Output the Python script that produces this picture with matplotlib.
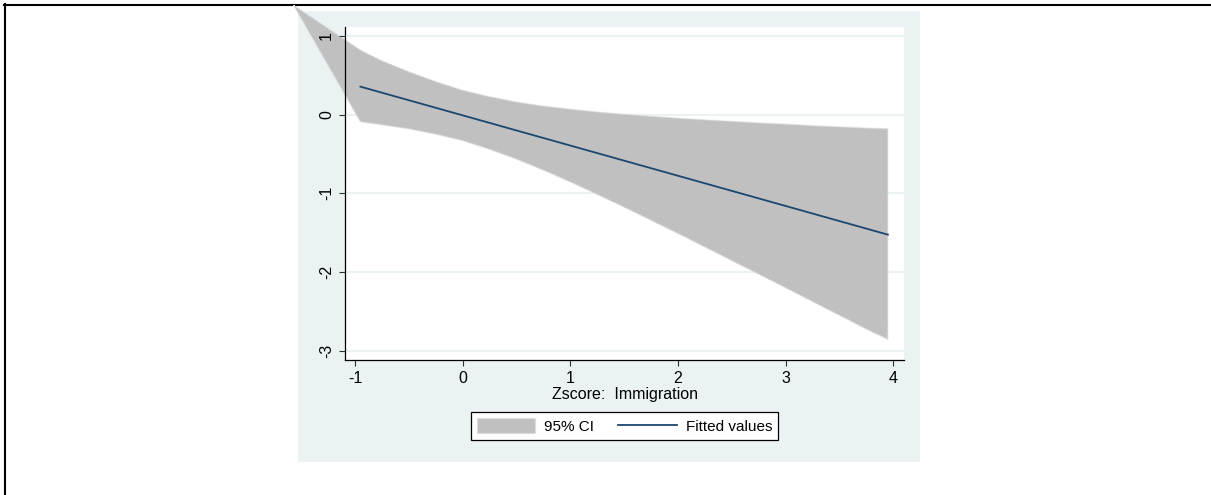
import matplotlib.pyplot as plt
from matplotlib.patches import Rectangle, Patch
from matplotlib.lines import Line2D

plt.rcParams['font.family'] = ['Liberation Sans', 'DejaVu Sans']
plt.rcParams['axes.unicode_minus'] = False

# 95% interval around the linear fit, read at these predictor values
band_x = [-0.95, -0.75, -0.5, -0.25, 0.0, 0.25, 0.5, 0.75, 1.0, 1.25, 1.5,
          1.75, 2.0, 2.25, 2.5, 2.75, 3.0, 3.25, 3.5, 3.75, 3.95]
band_upper = [0.82, 0.685, 0.545, 0.42, 0.31, 0.228, 0.16, 0.109, 0.07, 0.034, 0.005,
              -0.021, -0.045, -0.066, -0.085, -0.105, -0.12, -0.14, -0.155, -0.17, -0.18]
band_lower = [-0.09, -0.129, -0.18, -0.248, -0.33, -0.44, -0.565, -0.705, -0.855, -1.014, -1.175,
              -1.343, -1.51, -1.682, -1.855, -2.027, -2.2, -2.376, -2.55, -2.726, -2.855]
# extra vertex the shaded polygon starts from (sits outside the plot region)
stray_x = -1.57
stray_y = 1.39

# fitted values
fit_x = [-0.95, 3.95]
fit_y = [0.356, -1.525]

x_ticks = [-1, 0, 1, 2, 3, 4]
y_ticks = [1, 0, -1, -2, -3]

W, H = 1211, 495
fig = plt.figure(figsize=(W / 100, H / 100), dpi=100)

def fx(px):
    return px / W

def fy(py):
    return 1 - py / H

# page frame and graph region
fig.add_artist(Line2D([fx(4), fx(1211)], [fy(5), fy(5)], color='black', lw=1.5, zorder=-2))
fig.add_artist(Line2D([fx(5), fx(5)], [fy(4), fy(495)], color='black', lw=1.5, zorder=-2))
fig.add_artist(Rectangle((fx(298), fy(462)), fx(920) - fx(298), fy(11) - fy(462),
                         transform=fig.transFigure, facecolor='#eaf2f3', edgecolor='none', zorder=-1))

ax = fig.add_axes([fx(345), fy(360), fx(904) - fx(345), fy(27) - fy(360)])
ax.set_facecolor('white')
ax.set_xlim(-1.093, 4.1)
ax.set_ylim(-3.118, 1.114)

for yv in y_ticks:
    ax.axhline(yv, color='#eaf2f3', lw=1.5, zorder=0.5)

poly_x = [stray_x] + band_x + band_x[::-1]
poly_y = [stray_y] + band_upper + band_lower[::-1]
ax.fill(poly_x, poly_y, facecolor='#c0c0c0', edgecolor='#dcdcdc',
        linestyle=(0, (1, 1)), lw=1, clip_on=False, zorder=1)

ax.plot(fit_x, fit_y, color='#1a476f', lw=1.3, zorder=2)

for side in ['top', 'right']:
    ax.spines[side].set_visible(False)
for side in ['left', 'bottom']:
    ax.spines[side].set_linewidth(0.9)

ax.set_xticks(x_ticks)
ax.set_yticks(y_ticks)
ax.tick_params(direction='out', length=4, width=0.8, labelsize=11.5, pad=4, color='#333333')
for lab in ax.get_yticklabels():
    lab.set_rotation(90)
    lab.set_va('center')
ax.set_xlabel('Zscore:  Immigration', fontsize=11.5, labelpad=1)

handles = [Patch(facecolor='#c0c0c0', edgecolor='#dcdcdc', linestyle=(0, (1, 1))),
           Line2D([0], [0], color='#1a476f', lw=1.3)]
leg = fig.legend(handles, ['95% CI', 'Fitted values'], loc='center',
                 bbox_to_anchor=(fx(624.5), fy(426)), ncol=2, fontsize=11,
                 frameon=True, fancybox=False, edgecolor='black', framealpha=1,
                 handlelength=3.8, handleheight=1.1, handletextpad=0.6,
                 columnspacing=1.6, borderpad=0.4)
leg.get_frame().set_linewidth(0.9)

fig.savefig('out.png', dpi=100)
